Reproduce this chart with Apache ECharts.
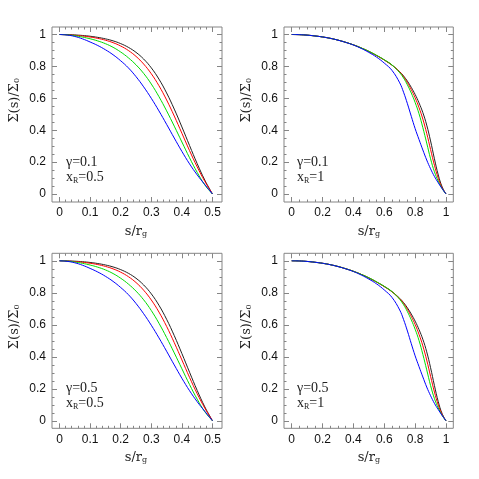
<!DOCTYPE html>
<html>
<head>
<meta charset="utf-8">
<style>html,body{margin:0;padding:0;background:#fff;}#c{width:479px;height:479px;}</style>
<script src="https://cdn.jsdelivr.net/npm/echarts@6/dist/echarts.min.js"></script>
</head>
<body>
<div id="c"></div>
<script>
// ---------- data ----------
const xHalf = [0,0.025,0.05,0.075,0.1,0.125,0.15,0.175,0.2,0.225,0.25,0.275,0.3,0.325,0.35,0.375,0.4,0.425,0.45,0.475,0.5];
const xFull = [0,0.05,0.1,0.15,0.2,0.25,0.3,0.35,0.4,0.45,0.5,0.55,0.6,0.65,0.7,0.725,0.75,0.775,0.8,0.825,0.85,0.875,0.9,0.925,0.95,0.975,1];

// panel 1: gamma=0.1, xR=0.5
const tlBlack = [1,0.9993,0.9973,0.994,0.9891,0.9821,0.9728,0.9602,0.9428,0.9195,0.8882,0.8462,0.7909,0.7203,0.6337,0.5324,0.4205,0.3039,0.19,0.0867,0];
const tlRed   = [1,0.998,0.995,0.9905,0.9843,0.9758,0.9643,0.9488,0.9278,0.8998,0.8628,0.8148,0.7538,0.6788,0.5898,0.4888,0.3808,0.2718,0.1698,0.0788,0];
const tlGreen = [1,0.9977,0.9922,0.9839,0.9732,0.9597,0.9425,0.9197,0.8902,0.854,0.81,0.756,0.6895,0.6105,0.5215,0.4255,0.326,0.227,0.1355,0.0565,0];
const tlBlue  = [1,0.9967,0.9877,0.9728,0.953,0.931,0.9045,0.8731,0.8352,0.7909,0.7359,0.6719,0.5999,0.5209,0.4369,0.3509,0.2669,0.1889,0.1199,0.0589,0];

// panel 2: gamma=0.1, xR=1
const trBlack = [1,0.999,0.996,0.991,0.9846,0.976,0.9648,0.951,0.935,0.916,0.8938,0.8683,0.8402,0.8079,0.7669,0.74,0.7074,0.6684,0.6242,0.5717,0.5101,0.4319,0.3326,0.2209,0.1191,0.0447,0];
const trRed   = [1,0.999,0.996,0.991,0.9846,0.976,0.9648,0.951,0.935,0.916,0.8938,0.8683,0.8402,0.8079,0.7647,0.7348,0.698,0.6543,0.6032,0.5421,0.4694,0.3803,0.279,0.1802,0.0983,0.0393,0];
const trGreen = [1,0.999,0.996,0.991,0.9846,0.976,0.9648,0.951,0.935,0.916,0.8945,0.8695,0.8418,0.809,0.7604,0.727,0.684,0.633,0.5738,0.5038,0.416,0.3192,0.2209,0.1395,0.0804,0.034,0];
const trBlue  = [1,0.999,0.996,0.991,0.9846,0.976,0.9645,0.9505,0.934,0.913,0.8877,0.8582,0.8208,0.775,0.697,0.638,0.566,0.487,0.41,0.342,0.276,0.213,0.158,0.11,0.07,0.033,0];

// panel 3: gamma=0.5, xR=0.5
const blBlack = [1,0.9994,0.9975,0.9944,0.9897,0.983,0.974,0.9617,0.9448,0.922,0.891,0.849,0.7935,0.7222,0.6345,0.5325,0.4202,0.3035,0.1898,0.0866,0];
const blRed   = [1,0.9982,0.9953,0.9909,0.9848,0.9764,0.965,0.9496,0.9288,0.901,0.8642,0.8162,0.7551,0.6797,0.5902,0.4886,0.3803,0.2712,0.1693,0.0786,0];
const blGreen = [1,0.9978,0.9924,0.9842,0.9736,0.9602,0.9431,0.9204,0.891,0.8548,0.8106,0.7562,0.6892,0.6098,0.5205,0.4245,0.3251,0.2264,0.1352,0.0564,0];
const blBlue  = [1,0.9966,0.9875,0.9724,0.9524,0.93,0.9032,0.8714,0.8332,0.7886,0.7334,0.6692,0.5972,0.5184,0.4347,0.3492,0.2656,0.1881,0.1195,0.0588,0];

// panel 4: gamma=0.5, xR=1
const brBlack = [1,0.999,0.996,0.991,0.9845,0.9758,0.9645,0.9505,0.9345,0.9153,0.893,0.8673,0.839,0.8066,0.7655,0.7386,0.706,0.667,0.6229,0.5705,0.5091,0.4311,0.332,0.2205,0.1189,0.0446,0];
const brRed   = [1,0.999,0.996,0.991,0.9845,0.9758,0.9645,0.9505,0.9345,0.9153,0.893,0.8673,0.839,0.8066,0.7632,0.7333,0.6965,0.6528,0.6018,0.5408,0.4683,0.3795,0.2784,0.1798,0.0981,0.0392,0];
const brGreen = [1,0.999,0.996,0.991,0.9845,0.9758,0.9645,0.9505,0.9345,0.9153,0.8937,0.8685,0.8406,0.8077,0.7588,0.7252,0.6822,0.6312,0.5722,0.5024,0.415,0.3185,0.2205,0.1392,0.0802,0.0339,0];
const brBlue  = [1,0.999,0.996,0.991,0.9845,0.9757,0.964,0.9498,0.933,0.9115,0.8858,0.8558,0.8178,0.7712,0.6925,0.633,0.561,0.482,0.406,0.339,0.274,0.211,0.157,0.109,0.07,0.033,0];

const gammaLabels = ['0.1','0.1','0.5','0.5'];
const xrLabels = ['0.5','1','0.5','1'];
const xMaxes = [0.5, 1, 0.5, 1];
const xIntervals = [0.1, 0.2, 0.1, 0.2];
const xMinorSplits = [5, 4, 5, 4];
const yTickInterval = 0.2;

const panelXs = [xHalf, xFull, xHalf, xFull];
const panelSeries = [
  [tlBlack, tlRed, tlGreen, tlBlue],
  [trBlack, trRed, trGreen, trBlue],
  [blBlack, blRed, blGreen, blBlue],
  [brBlack, brRed, brGreen, brBlue]
];
const lineColors = ['#222222', '#ff0000', '#00dd00', '#0000ff'];

// ---------- layout ----------
const frames = [
  {l:52, t:27, r:222, b:202},
  {l:284, t:27, r:453.3, b:202},
  {l:52, t:253.3, r:222, b:428.3},
  {l:284, t:253.3, r:453.3, b:428.3}
];
const inners = [
  {l:59.5, t:34.5, r:212.5, b:194},
  {l:291.7, t:34.5, r:446, b:194},
  {l:59.5, t:260.8, r:212.5, b:420.8},
  {l:291.7, t:260.8, r:446, b:420.8}
];

const frameColor = '#858585';
const textColor = '#222';
const tickFont = 'Liberation Sans, Arial, sans-serif';
const serif = 'DejaVu Serif, serif';
const serif2 = 'Liberation Serif, Times New Roman, serif';

const titleRich = {
  a: {fontFamily: serif, fontSize: 13, lineHeight: 18, color: textColor, verticalAlign: 'bottom'},
  sub: {fontFamily: serif, fontSize: 8, lineHeight: 8, color: textColor, verticalAlign: 'bottom'}
};
const annRich = {
  a: {fontFamily: serif2, fontSize: 14, lineHeight: 19, fill: textColor, color: textColor, verticalAlign: 'bottom'},
  sub: {fontFamily: serif2, fontSize: 8, lineHeight: 8, fill: textColor, color: textColor, verticalAlign: 'bottom'}
};

const grid = [], xAxis = [], yAxis = [], series = [], graphic = [];

function tickCfg(len) {
  return {show: true, inside: true, length: len, lineStyle: {color: frameColor, width: 1}};
}

for (let p = 0; p < 4; p++) {
  const f = frames[p], g = inners[p];
  grid.push({left: f.l, top: f.t, width: f.r - f.l, height: f.b - f.t, show: true,
    borderColor: frameColor, borderWidth: 1, backgroundColor: 'transparent', outerBoundsMode: 'none', containLabel: false});
  grid.push({left: g.l, top: g.t, width: g.r - g.l, height: g.b - g.t, show: false, outerBoundsMode: 'none', containLabel: false});

  const og = 2 * p, ig = 2 * p + 1;
  xAxis.push({gridIndex: og, type: 'value', show: false, min: 0, max: 1});
  yAxis.push({gridIndex: og, type: 'value', show: false, min: 0, max: 1});

  const xCommon = {
    gridIndex: ig, type: 'value', min: 0, max: xMaxes[p], interval: xIntervals[p],
    axisLine: {show: false, onZero: false},
    axisTick: tickCfg(5),
    minorTick: {show: true, splitNumber: xMinorSplits[p], length: 2.5, lineStyle: {color: frameColor, width: 1}},
    splitLine: {show: false}, minorSplitLine: {show: false}
  };
  xAxis.push(Object.assign({}, xCommon, {
    position: 'bottom', offset: f.b - g.b,
    axisLabel: {show: true, margin: 5, fontSize: 12, fontFamily: tickFont, color: '#111', showMinLabel: true, showMaxLabel: true},
    name: '{a|s/r}{sub|g}', nameLocation: 'middle', nameGap: 18, nameMoveOverlap: false,
    nameTextStyle: {rich: titleRich}
  }));
  xAxis.push(Object.assign({}, xCommon, {
    position: 'top', offset: g.t - f.t, axisLabel: {show: false}
  }));

  const yCommon = {
    gridIndex: ig, type: 'value', min: 0, max: 1, interval: yTickInterval,
    axisLine: {show: false, onZero: false},
    axisTick: tickCfg(5),
    minorTick: {show: true, splitNumber: 4, length: 2.5, lineStyle: {color: frameColor, width: 1}},
    splitLine: {show: false}, minorSplitLine: {show: false}
  };
  yAxis.push(Object.assign({}, yCommon, {
    position: 'left', offset: g.l - f.l,
    axisLabel: {show: true, margin: 6, fontSize: 12, fontFamily: tickFont, color: '#111', showMinLabel: true, showMaxLabel: true},
    name: '{a|Σ(s)/Σ}{sub|0}', nameLocation: 'middle', nameRotate: 90, nameGap: 31, nameMoveOverlap: false,
    nameTextStyle: {rich: titleRich, padding: [0, 0, 0, 28]}
  }));
  yAxis.push(Object.assign({}, yCommon, {
    position: 'right', offset: f.r - g.r, axisLabel: {show: false}
  }));

  const xs = panelXs[p];
  panelSeries[p].forEach((ys, k) => {
    series.push({
      type: 'line', xAxisIndex: 3 * p + 1, yAxisIndex: 3 * p + 1,
      data: xs.map((x, i) => [x, ys[i]]),
      symbol: 'none', showSymbol: false, smooth: 0.4, clip: false,
      lineStyle: {width: 1, color: lineColors[k]}, silent: true, z: 2 + k
    });
  });

  const ax = (p % 2 === 0) ? f.l + 14 : f.l + 13;
  graphic.push({type: 'text', x: ax, y: f.b - 42, silent: true,
    style: {text: '{a|γ=' + gammaLabels[p] + '}', rich: annRich, align: 'left', verticalAlign: 'middle'}});
  graphic.push({type: 'text', x: ax, y: f.b - 27, silent: true,
    style: {text: '{a|x}{sub|R}{a|=' + xrLabels[p] + '}', rich: annRich, align: 'left', verticalAlign: 'middle'}});
}

const chart = echarts.init(document.getElementById('c'), null, {renderer: 'canvas'});
chart.setOption({
  animation: false,
  backgroundColor: '#ffffff',
  grid: grid, xAxis: xAxis, yAxis: yAxis, series: series, graphic: graphic
});
</script>
</body>
</html>
